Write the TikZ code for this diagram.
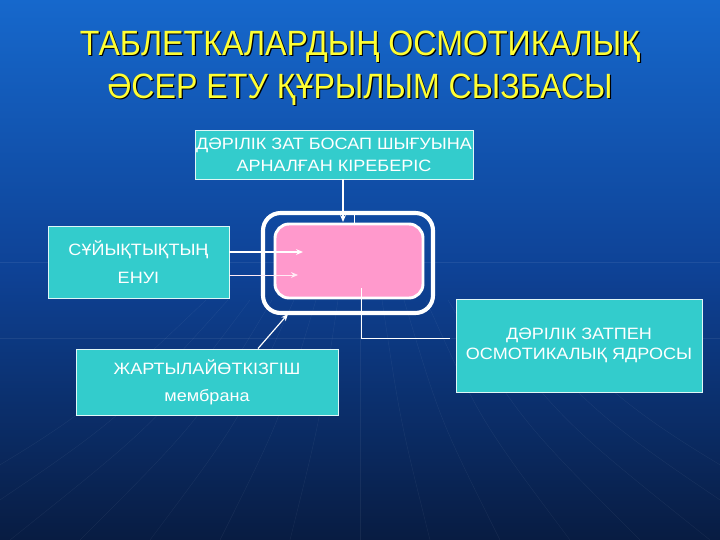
\documentclass[tikz,border=0pt]{standalone}
\usepackage{fontspec}
\setmainfont{Liberation Sans}
\newfontfamily\titlefont[FakeStretch=0.915]{Liberation Sans}
\newfontfamily\boxfont[FakeStretch=1.1]{Liberation Sans}
\usetikzlibrary{calc, arrows.meta}
\definecolor{slidetop}{RGB}{22, 104, 204}
\definecolor{slidemid}{RGB}{14, 66, 150}
\definecolor{slidebot}{RGB}{8, 28, 66}
\definecolor{boxcyan}{RGB}{51, 204, 204}
\definecolor{corepink}{RGB}{255, 153, 204}
\definecolor{titleyellow}{RGB}{255, 255, 51}

\tikzset{
    infobox/.style={draw=white!85!boxcyan, line width=0.8pt, fill=boxcyan,
        text=white, align=center, inner sep=0pt},
    boxtext/.style={font=\boxfont\fontsize{14}{#1}\selectfont},
    wire/.style={white, line width=1pt},
    arrowtip/.style={-{Stealth[length=6pt, width=5pt]}}
}

\begin{document}
\begin{tikzpicture}[x=0.3mm, y=-0.3mm]

% === Fondo ===
\useasboundingbox (0,0) rectangle (720,540);
\shade[top color=slidetop, bottom color=slidebot, middle color=slidemid]
    (0,0) rectangle (720,540);
% Líneas tenues del fondo
\foreach \k in {-7,...,7} {
    \draw[white, opacity=0.06]
        (360+\k*22, 300) .. controls (360+\k*40, 420) .. (360+\k*70, 540);
}
\foreach \y in {262, 338} {
    \draw[white, opacity=0.07] (0,\y) -- (720,\y);
}

% === Título ===
\foreach \dx/\col in {2/black, 0/titleyellow} {
    \node[text=\col, align=center, font=\titlefont\fontsize{30}{37}\selectfont]
        (title\dx) at (360+\dx*0.6, 68+\dx*0.6)
        {ТАБЛЕТКАЛАРДЫҢ ОСМОТИКАЛЫҚ\\ӘСЕР ЕТУ ҚҰРЫЛЫМ СЫЗБАСЫ};
}

% === Таблетка ===
\node[draw=white, line width=3.5pt, rounded corners=15pt,
    minimum width=170*0.3mm, minimum height=100*0.3mm] (shell) at (348,263) {};
\node[draw=white, line width=2.5pt, fill=corepink, rounded corners=12pt,
    minimum width=148*0.3mm, minimum height=74*0.3mm] (core) at (349,261) {};

% === Блоктар ===
\node[infobox, boxtext=19, minimum width=278*0.3mm, minimum height=49*0.3mm]
    (inlet) at (334,154.5) {ДӘРІЛІК ЗАТ БОСАП ШЫҒУЫНА\\АРНАЛҒАН КІРЕБЕРІС};
\node[infobox, boxtext=24, minimum width=181*0.3mm, minimum height=72*0.3mm]
    (liquid) at (138.5,262) {СҰЙЫҚТЫҚТЫҢ\\ЕНУІ};
\node[infobox, boxtext=23, minimum width=262*0.3mm, minimum height=66*0.3mm]
    (membrane) at (207,382) {ЖАРТЫЛАЙӨТКІЗГІШ\\мембрана};
\node[infobox, boxtext=17, minimum width=246*0.3mm, minimum height=93*0.3mm]
    (osmocore) at (579,345.5) {ДӘРІЛІК ЗАТПЕН\\ОСМОТИКАЛЫҚ ЯДРОСЫ};

% === Байланыстар ===
\coordinate (hole) at (354,213);
\draw[wire, line width=0.7pt] (hole) -- (hole |- core.north);
\draw[wire, arrowtip] (inlet.south -| 343,0) -- (343,222);
\draw[wire, arrowtip] (liquid.east |- 0,252) -- (303,252);
\draw[wire, white!80!corepink, line width=0.7pt, arrowtip]
    (liquid.east |- 0,275) -- (298,275);
\draw[wire, arrowtip] (membrane.north -| 258,0) -- (288,314);
\draw[wire, line width=0.7pt] (361,288) |- ($(osmocore.west |- 0,338)+(-6,0)$);

\end{tikzpicture}
\end{document}
